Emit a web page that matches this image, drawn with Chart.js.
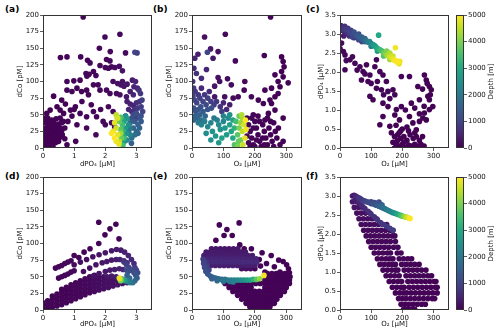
<!DOCTYPE html>
<html><head><meta charset="utf-8">
<script src="https://cdn.jsdelivr.net/npm/chart.js@4/dist/chart.umd.min.js"></script>
<style>
body{margin:0;background:#fff;width:500px;height:336px;position:relative;overflow:hidden;font-family:"DejaVu Sans",sans-serif}
canvas{position:absolute}
.lbl{position:absolute;font:bold 9px "DejaVu Sans";line-height:10px;color:#000}
</style></head><body>
<div class="lbl" style="left:5px;top:4px">(a)</div>
<div class="lbl" style="left:153px;top:4px">(b)</div>
<div class="lbl" style="left:306px;top:4px">(c)</div>
<div class="lbl" style="left:5px;top:171px">(d)</div>
<div class="lbl" style="left:153px;top:171px">(e)</div>
<div class="lbl" style="left:306px;top:171px">(f)</div>
<canvas id="ca" width="160" height="168" style="left:0;top:0"></canvas>
<canvas id="cb" width="155" height="168" style="left:155px;top:0"></canvas>
<canvas id="cc" width="150" height="168" style="left:305px;top:0"></canvas>
<canvas id="cd" width="160" height="168" style="left:0;top:168px"></canvas>
<canvas id="ce" width="155" height="168" style="left:155px;top:168px"></canvas>
<canvas id="cf" width="150" height="168" style="left:305px;top:168px"></canvas>
<canvas id="cbar1" width="50" height="168" style="left:450px;top:0"></canvas>
<canvas id="cbar2" width="50" height="168" style="left:450px;top:168px"></canvas>
<script>
// [x, y, depth in m]
const aPts = [
[1.29,197,50],[1.99,167,80],[2.47,171,100],[1.81,150,60],[2.16,145,100],[2.65,143,150],[0.56,136,30],[0.77,137,40],[1.21,137,60],[1.43,132,70],[1.51,128,80],[2.04,133,100],[2.15,131,120],[1.83,124,90],[2.0,121,100],[2.1,120,110],[2.2,122,120],[2.31,121,150],[2.45,123,200],[2.55,116,250],[1.38,112,70],[1.48,111,80],[1.62,115,90],[1.7,109,90],[1.41,108,80],[1.19,102,60],[0.77,100,40],[0.99,101,50],[2.25,100,150],[2.4,97,200],[2.5,95,250],[2.55,100,250],[2.6,93,300],[2.7,96,300],[2.87,102,400],[2.97,100,500],[2.92,92,500],[3.03,90,600],[3.08,87,700],[3.13,82,800],[3.18,72,900],
[0.34,78,20],[0.6,72,30],[0.77,87,40],[0.93,85,40],[1.09,90,50],[1.24,85,60],[1.4,87,70],[1.46,80,70],[1.62,95,80],[1.77,95,90],[1.83,87,90],[2.04,87,100],[2.15,82,120],[2.36,82,150],[2.47,80,200],[2.68,77,300],[2.8,85,400],[2.9,80,500],
[0.45,62,20],[0.23,57,15],[0.12,52,10],[0.02,45,10],[0.55,57,30],[0.66,52,30],[0.88,57,40],[1.04,62,50],[1.19,52,60],[0.93,48,40],[1.4,47,70],[1.62,55,80],[1.72,47,80],[1.93,40,90],[1.09,35,50],[1.4,30,70],[0.8,40,40],[0.7,30,30],[0.55,45,25],[0.6,38,30],[1.0,58,50],[0.72,66,35],[1.25,70,60],[1.55,65,75],[1.85,58,90],[2.1,62,100],[2.25,55,130],
[0.02,2,10],[0.05,6,10],[0.1,3,10],[0.15,8,10],[0.2,4,10],[0.25,10,10],[0.3,6,10],[0.35,12,15],[0.4,8,15],[0.45,14,15],[0.05,12,10],[0.1,16,10],[0.15,20,10],[0.2,15,10],[0.25,22,15],[0.3,18,15],[0.35,25,15],[0.4,20,15],[0.45,28,20],[0.5,22,20],[0.05,22,10],[0.1,27,10],[0.15,32,10],[0.2,28,15],[0.25,34,15],[0.3,30,15],[0.35,38,20],[0.4,33,20],[0.5,36,20],[0.55,30,25],[0.6,26,25],[0.02,30,10],[0.08,38,10],[0.18,40,15],[0.28,42,15],[0.42,44,20],[0.0,15,10],[0.0,8,10],[0.12,12,10],[0.22,26,15],[0.32,2,15],[0.5,10,20],[0.55,16,20],[0.62,20,25],[0.7,14,30],[0.77,5,40],[0.65,40,25],[0.02,40,10],[0.15,45,10],
[2.7,70,400],[2.8,66,450],[2.9,64,500],[3.0,68,600],[3.1,70,700],[2.75,58,500],[2.85,55,600],[2.95,58,700],[3.05,60,800],[3.15,62,900],[3.2,55,1000],[2.65,48,500],[2.0,35,100],[2.2,38,120],[2.3,32,150],[1.7,20,80],[1.05,10,50],[3.0,45,800],[3.1,48,900],
[2.9,50,1100],[3.0,52,1200],[3.1,45,1300],[3.15,40,1400],[2.85,45,1200],[2.95,40,1400],[3.05,35,1500],[2.8,38,1500],[2.9,30,1600],[3.0,25,1700],[3.1,30,1600],[2.95,20,1800],[2.84,7,1500],[2.75,25,1800],[2.85,15,1800],[3.05,22,1600],[3.15,48,1200],[2.95,144,1000],[3.02,143,900],
[2.65,48,2500],[2.7,44,2600],[2.6,40,2800],[2.75,35,2400],[2.65,30,2700],[2.7,22,2500],[2.8,20,2200],[2.6,18,2900],[2.55,42,3000],[2.7,12,2300],[2.62,10,2600],[2.8,30,2000],[2.55,25,3200],
[2.5,46,3600],[2.45,40,3800],[2.55,35,3500],[2.5,28,3700],[2.57,4,3500],[2.45,20,3900],[2.6,15,3400],[2.52,15,3800],
[2.35,50,4500],[2.4,45,4700],[2.3,38,4800],[2.25,25,4900],[2.35,30,4600],[2.4,20,4800],[2.3,15,5000],[2.45,10,4500],[2.44,6,4800],[2.38,45,4400],[2.5,22,4300],[2.35,10,4900],[2.2,22,5000]
];
const bPts = [
[250,197,50],[40,167,200],[106,171,100],[59,149,300],[49,144,1000],[83,145,200],[19,141,400],[67,135,300],[138,131,100],[230,139,30],[285,137,20],[290,130,20],[9,135,500],[6,120,600],[46,118,500],[14,112,700],[30,105,600],[83,106,200],[113,104,150],[88,100,200],[72,93,300],[125,95,150],[168,100,100],[166,87,100],[189,77,80],[232,87,40],[253,90,30],[274,100,20],[290,107,20],[306,98,20],[285,115,20],[293,122,20],[264,110,30],[280,92,20],[211,72,60],[227,67,50],[248,72,40],[264,77,30],[274,82,30],[290,45,20],[232,42,50],[264,57,30],[243,52,40],[253,67,30],[131,75,150],[147,77,120],[104,77,200],[72,77,300],
[2,100,700],[5,90,800],[10,85,800],[3,78,900],[8,72,1000],[15,68,1000],[20,80,800],[25,75,900],[30,90,600],[35,70,1000],[40,80,800],[45,65,1100],[50,75,900],[55,85,600],[60,70,900],[5,60,1200],[12,55,1300],[20,58,1300],[28,62,1200],[10,48,1500],[18,45,1600],[25,50,1500],[35,55,1400],[42,48,1600],[50,58,1300],[62,60,1200],[70,65,900],[78,70,800],[90,62,700],[100,68,500],[5,42,1600],[30,42,1800],[110,58,600],[120,65,400],[95,55,900],
[20,38,2000],[30,35,2200],[40,40,2100],[50,32,2300],[60,38,2200],[70,45,2000],[80,42,2100],[85,35,2400],[90,28,2500],[100,40,2300],[105,30,2600],[110,20,2700],[115,45,2400],[120,35,2800],[125,25,2900],[130,42,2800],[65,25,2500],[75,18,2600],[95,15,2800],[60,12,2500],[85,8,2600],[45,22,2400],[130,15,3000],[100,48,2200],[120,50,2500],[135,30,3200],
[140,40,3500],[145,20,3700],[135,5,3600],[150,48,3800],[150,30,4000],[155,12,3900],[160,45,4300],[160,25,4500],[165,35,4700],[168,15,4800],[158,50,4400],[170,42,5000],[145,3,4000],[162,5,4600],[155,38,4200],[172,28,4900],[148,10,3800],
[175,45,50],[180,35,60],[185,25,70],[190,15,60],[195,5,50],[200,40,40],[205,30,50],[210,20,40],[215,10,40],[220,2,30],[225,35,30],[230,25,40],[235,15,30],[240,5,30],[180,8,80],[190,45,60],[210,48,40],[245,30,30],[250,20,30],[255,10,25],[260,38,25],[200,2,40],[185,2,50],[230,5,30],[215,40,40],[260,2,25],[270,15,20],[280,5,20],[205,12,50],[195,30,60],[175,18,90],[240,45,30],[225,15,35],[250,40,30],[265,25,25],[275,30,20],[290,10,20],[195,50,60]
];
const cPts = [
[2,3.22,300],[5,3.2,500],[10,3.18,600],[15,3.2,700],[8,3.12,800],[20,3.12,900],[25,3.15,800],[30,3.05,1000],[35,3.1,900],[40,3.0,1100],[45,3.05,1200],[50,2.98,1200],[55,2.95,1400],[60,3.0,1300],[65,2.9,1500],[70,2.92,1400],[75,2.85,1600],[80,2.88,1700],[85,2.82,1900],[90,2.78,2000],[95,2.8,2200],[100,2.75,2300],[105,2.72,2500],[110,2.7,2700],[115,2.66,2800],[120,2.62,3000],[125,2.6,3200],[124,2.97,3000],[130,2.58,3400],[135,2.55,3500],[140,2.5,3800],[145,2.48,4000],[150,2.45,4200],[155,2.42,4400],[160,2.4,4600],[165,2.38,4700],[170,2.35,4800],[178,2.64,4900],[175,2.3,4900],[180,2.3,5000],[185,2.25,5000],[190,2.22,4800],[192,2.28,4900],[160,2.5,4400],[150,2.55,4000],[170,2.42,4600],
[5,3.1,400],[15,3.05,500],[25,3.0,600],[30,2.95,700],[12,2.95,400],[45,2.9,800],[60,2.85,900],[70,2.8,1000],[20,3.05,700],[40,2.92,1000],[60,2.88,1200],[80,2.8,1500],[100,2.68,2000],[120,2.55,2700],[140,2.42,3600],[160,2.33,4300],
[0,2.62,100],[5,2.76,150],[11,2.54,120],[16,2.45,100],[16,2.06,80],[32,2.32,80],[48,2.23,80],[64,2.14,70],[69,1.79,60],[74,2.01,60],[85,2.19,70],[90,1.75,60],[96,1.92,60],[117,2.32,80],[112,2.14,70],[128,2.01,60],[138,1.92,50],[117,1.57,50],[133,1.53,50],[149,1.75,40],[154,1.49,40],[170,1.53,40],[176,1.40,40],[197,1.88,40],[223,1.88,30],[250,1.62,30],[96,1.36,40],[106,1.27,40],[138,1.18,30],[154,1.09,30],[181,1.01,30],[197,1.09,30],[229,1.18,25],[255,1.27,25],[271,1.92,20],[277,1.79,20],[287,1.62,20],[293,1.53,20],[282,1.36,20],[287,1.27,20],[298,1.09,20],[287,1.01,20],[271,0.92,20],[266,0.79,20],[255,0.70,20],[277,0.74,20],[128,0.61,25],[138,0.83,25],[160,0.57,20],[191,0.74,20],[176,0.87,20],[223,0.83,20],[234,0.66,20],[245,0.48,20],
[20,2.3,100],[40,2.4,100],[55,2.05,70],[80,1.95,70],[100,1.7,60],[120,1.75,50],[140,1.4,40],[160,1.3,30],[210,1.0,25],[240,1.05,25],[265,1.55,20],[280,1.7,20],[270,1.1,20],[290,1.4,20],[255,0.9,20],[180,0.6,20],[200,0.5,20],[215,0.55,20],
[165,0.4,20],[175,0.3,20],[185,0.35,20],[195,0.25,20],[205,0.3,20],[215,0.2,20],[225,0.35,20],[235,0.25,20],[245,0.3,20],[255,0.2,20],[170,0.15,20],[180,0.1,20],[190,0.05,20],[200,0.1,20],[210,0.02,20],[220,0.08,20],[230,0.05,20],[240,0.1,20],[250,0.05,20],[260,0.1,20],[265,0.3,20],[195,0.45,20],[220,0.45,20],[205,0.15,20],[185,0.2,20],[270,0.05,20],[175,0.0,20],[200,0.0,20],[225,0.0,20],[250,0.0,20],[190,0.4,20],[240,0.4,20]
];
const dCurves = [
[1.0,68,150],[1.2,72,180],[1.4,76,200],[1.6,80,230],[1.8,83,260],[2.0,86,300],[2.2,89,330],[2.36,91,360],[2.5,90,400],[2.62,87,450],[2.74,82,500],[2.84,76,550],[2.92,70,600],
[1.3,58,200],[1.5,63,230],[1.7,68,260],[1.9,71,300],[2.05,73,330],[2.2,75,360],[2.35,76,400],[2.47,76,450],[2.6,74,500],[2.7,71,600],
[1.62,51,250],[1.8,55,280],[2.0,58,320],[2.15,60,360],[2.3,61,400],[2.45,62,450],[2.57,61,500],[2.05,50,300],[2.2,51,350],[2.35,50,400],
[0.4,63,60],[0.5,65,70],[0.6,67,80],[0.7,70,90],[0.8,72,100],[0.9,74,110],
[0.5,48,60],[0.6,50,70],[0.7,52,80],[0.8,54,90],[0.9,57,100],[1.0,59,110],
[1.79,132,50],[2.15,122,50],[2.34,129,50],[1.99,113,50],[2.44,107,50],[1.79,100,60],[1.51,92,60],[1.32,87,60],[1.0,82,60],[1.15,79,60],
[2.6,72,800],[2.68,68,900],[2.76,64,1000],[2.84,60,1100],[2.92,56,1200],[2.98,52,1300],[3.02,48,1400],[3.0,60,1000],[2.95,64,900],[3.04,56,1100],[2.95,44,1600],[2.88,41,1800],[2.8,41,2000],[2.72,43,2200],[2.64,44,2600],[2.58,45,3000],[2.52,46,3600],[2.49,44,4000],[2.45,48,4800],[2.47,47,4500],[2.7,52,1500],[2.74,58,1200],[2.78,48,1700],[2.68,60,1100]
];
// columns of the dense wedge: [x, depth, [y...]]
const dWedge = [
[0.0,40,[1,6,11]],[0.15,40,[2,8,14]],[0.3,50,[4,10,16,21]],[0.45,50,[6,12,18,24]],[0.6,60,[8,14,20,26,31]],[0.75,60,[11,17,23,29,34]],[0.9,70,[14,20,26,32,38]],[1.05,80,[17,23,29,35,41]],[1.2,90,[20,26,32,38,44]],[1.35,100,[23,29,35,41,47]],[1.5,120,[26,32,38,44,50]],[1.65,140,[28,34,40,46,52]],[1.8,160,[30,36,42,48]],[1.95,180,[32,38,44,50]],[2.1,200,[34,40,46]],[2.25,220,[36,42,48]],[2.4,250,[38,44]],[2.55,280,[40,46]],[2.7,300,[41]]
];
const eCurves = [
[87,128,40],[150,131,40],[111,121,40],[128,112,40],[102,112,40],[76,105,40],[152,98,40],[189,92,40],[166,92,40],[223,86,40],[252,82,35],[276,75,30],[290,73,30],[301,68,25],[307,62,25],[310,56,25],[312,50,25],
[214,76,45],[237,70,40],[262,65,35],[280,57,30],[301,55,30],[232,57,45],[259,52,40],[278,47,35],[200,62,50],[218,66,45],
[36,76,900],[37,70,1000],[40,64,1100],[44,58,1200],[50,54,1300],[58,51,1400],[66,49,1500],[75,48,1600],[85,47,1700],[95,46,1800],[105,46,1900],[115,45,2000],[125,45,2100],[135,45,2200],[145,45,2300],[155,45,2400],[165,45,2500],[175,45,2700],[185,45,2900],[195,46,3200],[205,46,3700],[215,47,4200],[229,52,4900],
[45,72,800],[48,66,900],[54,60,1000],[63,47,1500],[80,44,1700],[100,43,1900],[120,43,2000],[131,42,2100]
];
// rows of dense model output: [y, depth, [x...]]
const eFill = [
[92,300,[62,76,90,104,118,132,146]],
[87,350,[45,58,72,86,100,114,128,142,156,170]],
[82,400,[38,52,66,80,94,108,122,136,150,164,178,192]],
[77,500,[36,50,64,78,92,106,120,134,148,162,176,190,204]],
[72,600,[38,52,66,80,94,108,122,136,150,164,178,192,206]],
[67,400,[60,74,88,102,116,130,144,158,172,186,200]],
[62,200,[158,172,186]],
[55,30,[240,254,268,282,296]],
[50,30,[236,250,264,278,292,304]],
[45,30,[232,246,260,274,288,300,310]],
[40,30,[105,119,133,147,161,175,189,203,217,231,245,259,273,287,301,310]],
[34,30,[118,132,146,160,174,188,232,246,260,274,288,300]],
[28,30,[130,144,158,172,186,200,214,228,242,256,270,284,294]],
[22,30,[145,159,173,187,201,215,229,243,257,271,281]],
[16,30,[158,171,184,197,210,223,236,249,261,270]],
[10,30,[172,184,196,208,220,232,244,256,262]],
[5,30,[184,195,206,217,228,239,248]],
[1,30,[195,205,215,225,235]]
];
const fCurves = [
[40,3.0,300],[45,3.02,400],[50,3.0,500],[55,2.97,600],[60,2.95,700],[65,2.93,800],[70,2.9,850],[75,2.88,900],[80,2.87,950],[85,2.85,1000],[90,2.84,1050],[95,2.82,1100],[100,2.8,1150],[105,2.8,1200],[110,2.78,1250],[115,2.76,1300],[120,2.75,1400],[125,2.73,1500],[130,2.72,1600],[135,2.7,1700],[140,2.68,1800],[145,2.66,1900],[150,2.64,2000],[155,2.62,2100],[160,2.6,2200],[165,2.58,2300],[170,2.56,2400],[175,2.55,2500],[180,2.53,2700],[185,2.52,2900],[190,2.5,3100],[195,2.49,3400],[200,2.47,3700],[205,2.46,4000],[210,2.45,4300],[215,2.44,4600],[220,2.42,4800],[225,2.41,5000],
[100,2.85,1000],[110,2.83,1100],[120,2.81,1200],[130,2.78,1300],[125,2.84,1100],[135,2.76,1500],
[50,2.9,400],[60,2.82,500],[70,2.75,600],[80,2.67,600],[90,2.6,650],[100,2.52,700],[110,2.45,700],[120,2.38,750],[130,2.3,750],[140,2.25,800],[150,2.2,800],[160,2.15,850],[170,2.1,900]
];
const fFill = [
[2.85,300,[40,54]],[2.7,250,[46,60,74]],[2.55,200,[54,68,82,96]],[2.4,180,[61,75,89,103,117]],[2.25,150,[68,82,96,110,124,138,150]],[2.1,120,[76,90,104,118,132,146,160,170]],
[1.95,100,[84,98,112,126,140,154,168,176]],[1.8,90,[92,106,120,134,148,162,178]],[1.65,80,[100,114,128,142,156,172,186]],[1.5,70,[110,124,138,152,162,184,196]],
[1.35,60,[120,134,148,160,170,190,204,218,230]],[1.2,50,[128,142,156,168,178,198,212,226,240,254]],[1.05,40,[138,152,166,178,186,206,220,234,248,262,276]],[0.9,40,[148,162,176,190,212,226,240,254,268,282,294]],
[0.75,30,[158,172,186,198,218,232,246,260,274,288,302,308]],[0.6,30,[168,182,196,206,222,236,250,264,278,292,306,312]],[0.45,30,[178,192,204,214,228,242,256,270,284,298,312]],[0.3,30,[188,200,212,226,240,254,268,282,296,304]],
[0.15,30,[196,208,220,234,248,262,274]],[0.02,30,[204,216,228,240]]
];
const dcoTicks = { min: 0, max: 200, step: 25 };
const po4Ticks = { min: 0, max: 3.5, step: 1 };
const o2Ticks = { min: 0, max: 350, step: 100 };
const po4yTicks = { min: 0, max: 3.5, step: 0.5 };
const depthTicks = { min: 0, max: 5000, step: 1000 };

const VIR = ['#440154','#482475','#414487','#355f8d','#2a788e','#21918c','#22a884','#44bf70','#7ad151','#bddf26','#fde725'];
const hx = h => [1, 3, 5].map(i => parseInt(h.slice(i, i + 2), 16));
function viridis(t) {
  t = Math.max(0, Math.min(1, t));
  const s = t * 10, i = Math.min(9, Math.floor(s)), f = s - i, a = hx(VIR[i]), b = hx(VIR[i + 1]);
  return 'rgb(' + a.map((v, k) => Math.round(v + (b[k] - v) * f)).join(',') + ')';
}
const rowsY = rows => rows.flatMap(r => r[2].map(x => [x, r[0], r[1]]));
const colsX = cols => cols.flatMap(c => c[2].map(y => [c[0], y, c[1]]));

const FONT = { family: 'DejaVu Sans', size: 7 };
const frame = { id: 'frame', afterDraw(c) {
  const a = c.chartArea, x = c.ctx;
  x.save(); x.strokeStyle = '#333'; x.lineWidth = 1;
  x.strokeRect(Math.round(a.left) + 0.5, Math.round(a.top) + 0.5, Math.round(a.right - a.left) - 1, Math.round(a.bottom - a.top) - 1);
  x.restore();
} };

function axis(t, title, kind, size, fmt) {
  return {
    type: 'linear', min: t.min, max: t.max,
    border: { display: false },
    grid: { drawOnChartArea: false, drawTicks: true, tickLength: 3, color: '#333', lineWidth: 0.8 },
    ticks: { stepSize: t.step, includeBounds: false, autoSkip: false, maxRotation: 0, padding: 1, color: '#111', font: FONT, callback: fmt || (v => String(v)) },
    title: { display: !!title, text: title, color: '#111', font: FONT, padding: { top: 1, bottom: 0 } },
    afterFit: s => { if (kind === 'x') s.height = size; else s.width = size; }
  };
}

function scatter(id, pts, xt, xTitle, yt, yTitle, pad, yw, xh, yfmt) {
  const p = pts.slice().sort((u, v) => u[2] - v[2]);
  new Chart(document.getElementById(id), {
    type: 'scatter',
    data: { datasets: [{ data: p.map(q => ({ x: q[0], y: q[1] })), pointBackgroundColor: p.map(q => viridis(q[2] / 5000)), pointBorderWidth: 0, pointRadius: 2.8, pointHoverRadius: 2.8, clip: 0 }] },
    options: {
      responsive: false, animation: false, events: [], devicePixelRatio: 1,
      layout: { padding: pad },
      plugins: { legend: { display: false }, tooltip: { enabled: false } },
      scales: { x: axis(xt, xTitle, 'x', xh), y: axis(yt, yTitle, 'y', yw, yfmt) }
    },
    plugins: [frame]
  });
}

function colorbar(id, pad) {
  new Chart(document.getElementById(id), {
    type: 'bar',
    data: { labels: [''], datasets: [{ data: [[depthTicks.min, depthTicks.max]], barPercentage: 1, categoryPercentage: 1, borderWidth: 0,
      backgroundColor: c => {
        const a = c.chart.chartArea; if (!a) return '#440154';
        const g = c.chart.ctx.createLinearGradient(0, a.bottom, 0, a.top);
        VIR.forEach((v, i) => g.addColorStop(i / 10, v));
        return g;
      } }] },
    options: {
      responsive: false, animation: false, events: [], devicePixelRatio: 1,
      layout: { padding: pad },
      plugins: { legend: { display: false }, tooltip: { enabled: false } },
      scales: {
        x: { display: false },
        y: Object.assign(axis(depthTicks, '', 'y', 36), { position: 'right' })
      }
    },
    plugins: [frame, { id: 'cbtitle', afterDraw(c) {
      const a = c.chartArea, x = c.ctx;
      x.save(); x.translate(41, (a.top + a.bottom) / 2); x.rotate(-Math.PI / 2);
      x.font = '7px "DejaVu Sans"'; x.fillStyle = '#111'; x.textAlign = 'center'; x.textBaseline = 'middle';
      x.fillText('Depth [m]', 0, 0); x.restore();
    } }]
  });
}

const f1 = v => v.toFixed(1);
scatter('ca', aPts, po4Ticks, 'dPO₄ [µM]', dcoTicks, 'dCo [pM]', { left: 15, right: 8, top: 15, bottom: 0 }, 28, 20);
scatter('cb', bPts, o2Ticks, 'O₂ [µM]', dcoTicks, 'dCo [pM]', { left: 9, right: 8, top: 15, bottom: 0 }, 28, 20);
scatter('cc', cPts, o2Ticks, 'O₂ [µM]', po4yTicks, 'dPO₄ [µM]', { left: 11, right: 6, top: 15, bottom: 0 }, 24, 20, f1);
scatter('cd', dCurves.concat(colsX(dWedge)), po4Ticks, 'dPO₄ [µM]', dcoTicks, 'dCo [pM]', { left: 15, right: 8, top: 9, bottom: 8 }, 28, 18);
scatter('ce', eCurves.concat(rowsY(eFill)), o2Ticks, 'O₂ [µM]', dcoTicks, 'dCo [pM]', { left: 9, right: 8, top: 9, bottom: 8 }, 28, 18);
scatter('cf', fCurves.concat(rowsY(fFill)), o2Ticks, 'O₂ [µM]', po4yTicks, 'dPO₄ [µM]', { left: 11, right: 6, top: 9, bottom: 8 }, 24, 18, f1);
colorbar('cbar1', { left: 6, right: 0, top: 15, bottom: 20 });
colorbar('cbar2', { left: 6, right: 0, top: 9, bottom: 26 });
</script>
</body></html>
